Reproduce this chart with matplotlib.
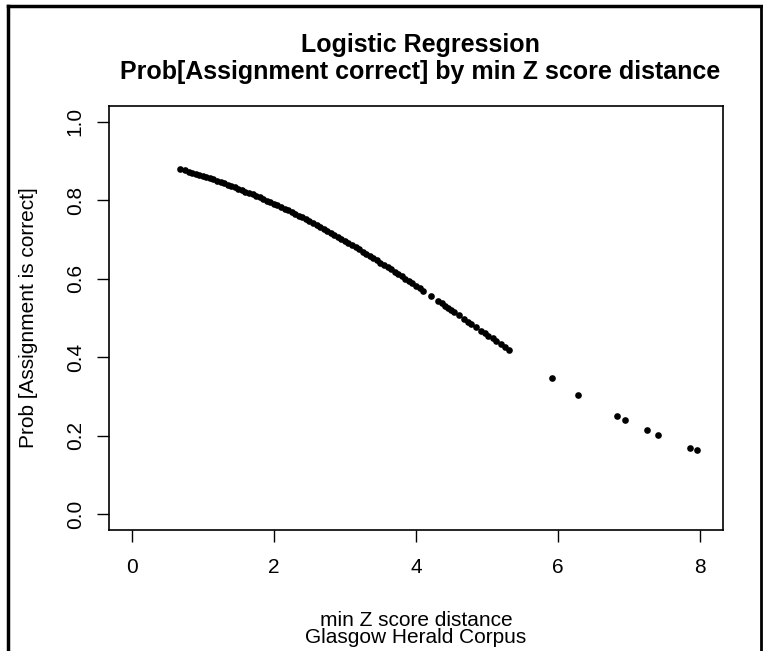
import matplotlib
matplotlib.use("Agg")
import matplotlib.pyplot as plt
from matplotlib.lines import Line2D

plt.rcParams['font.family'] = ['Liberation Sans', 'DejaVu Sans']

# fitted probabilities (min Z score distance -> Prob)
z_dist = [0.68, 0.75, 0.80, 0.85, 0.90, 0.95, 1.00, 1.05, 1.10, 1.15, 1.20, 1.25,
          1.30, 1.35, 1.40, 1.45, 1.50, 1.55, 1.60, 1.65, 1.70, 1.75, 1.80, 1.85,
          1.90, 1.95, 2.00, 2.05, 2.10, 2.15, 2.20, 2.25, 2.30, 2.35, 2.40, 2.45,
          2.50, 2.55, 2.60, 2.65, 2.70, 2.75, 2.80, 2.85, 2.90, 2.95, 3.00, 3.05,
          3.10, 3.15, 3.20, 3.25, 3.30, 3.35, 3.40, 3.45, 3.50, 3.55, 3.60, 3.65,
          3.70, 3.75, 3.80, 3.85, 3.90, 3.95, 4.00, 4.05, 4.10,
          4.21, 4.31, 4.36, 4.41, 4.45, 4.49, 4.54, 4.60, 4.68, 4.73, 4.78, 4.85,
          4.92, 4.97, 5.02, 5.08, 5.13, 5.20, 5.25, 5.31,
          5.91, 6.28, 6.83, 6.94, 7.25, 7.40, 7.86, 7.95]
prob = [0.880, 0.876, 0.873, 0.870, 0.868, 0.865, 0.862, 0.859, 0.856, 0.853, 0.849, 0.846,
        0.843, 0.840, 0.836, 0.833, 0.829, 0.826, 0.822, 0.818, 0.815, 0.811, 0.807, 0.803,
        0.799, 0.795, 0.791, 0.787, 0.782, 0.778, 0.774, 0.769, 0.765, 0.760, 0.756, 0.751,
        0.746, 0.742, 0.737, 0.732, 0.727, 0.722, 0.717, 0.712, 0.707, 0.702, 0.696, 0.691,
        0.686, 0.680, 0.675, 0.669, 0.664, 0.658, 0.652, 0.647, 0.641, 0.635, 0.630, 0.624,
        0.618, 0.612, 0.606, 0.600, 0.594, 0.588, 0.582, 0.576, 0.570,
        0.557, 0.544, 0.537, 0.531, 0.526, 0.521, 0.515, 0.507, 0.498, 0.491, 0.485, 0.476,
        0.468, 0.461, 0.455, 0.448, 0.442, 0.433, 0.427, 0.419,
        0.346, 0.304, 0.250, 0.239, 0.215, 0.201, 0.170, 0.163]

x_ticks = [0, 2, 4, 6, 8]
y_ticks = [0.0, 0.2, 0.4, 0.6, 0.8, 1.0]
y_tick_labels = ['0.0', '0.2', '0.4', '0.6', '0.8', '1.0']

W, H = 763, 651
fig = plt.figure(figsize=(W / 100, H / 100), dpi=100)
ax = fig.add_axes([109 / W, 1 - 530 / H, (723 - 109) / W, (530 - 106) / H])

ax.plot(z_dist, prob, 'o', color='black', ms=4.8, mew=0)

ax.set_xlim(-0.32, 8.32)
ax.set_ylim(-0.04, 1.04)
ax.set_xticks(x_ticks)
ax.set_yticks(y_ticks)
ax.set_yticklabels(y_tick_labels, rotation=90, va='center')
for s in ax.spines.values():
    s.set_linewidth(1.2)
ax.tick_params(length=8.5, width=1.0, labelsize=15, color='black')
ax.tick_params(axis='x', pad=12)
ax.tick_params(axis='y', pad=9)

# titles and labels, R style
fig.text(420 / W, 1 - 52 / H, 'Logistic Regression', ha='center', va='baseline',
         fontsize=18, fontweight='bold')
fig.text(420 / W, 1 - 79 / H, 'Prob[Assignment correct] by min Z score distance',
         ha='center', va='baseline', fontsize=18, fontweight='bold')
# va='baseline' sits on the last line here
fig.text(416 / W, 1 - 643 / H, 'min Z score distance\nGlasgow Herald Corpus',
         ha='center', va='baseline', fontsize=15, linespacing=0.9)
fig.text(34 / W, 1 - 318 / H, 'Prob [Assignment is correct]', rotation=90,
         rotation_mode='anchor', ha='center', va='baseline', fontsize=15)

# outer frame
fig.add_artist(Line2D([7.5 / W, 7.5 / W], [0, 1 - 6 / H], transform=fig.transFigure,
                      color='black', lw=2.5))
fig.add_artist(Line2D([7.5 / W, 761 / W], [1 - 6 / H, 1 - 6 / H], transform=fig.transFigure,
                      color='black', lw=2.5))
fig.add_artist(Line2D([761 / W, 761 / W], [0, 1 - 6 / H], transform=fig.transFigure,
                      color='black', lw=2.0))

fig.savefig('out.png', dpi=100)
